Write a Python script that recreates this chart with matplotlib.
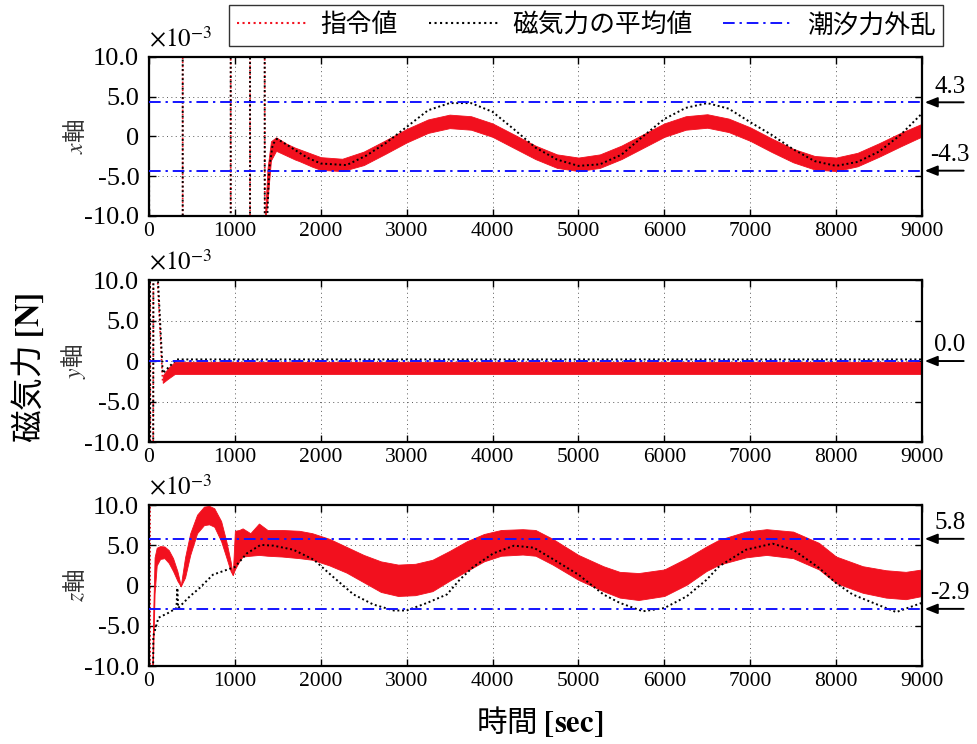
import matplotlib
matplotlib.use('Agg')
import matplotlib.pyplot as plt
from matplotlib.lines import Line2D
from matplotlib.ticker import FixedLocator, FixedFormatter

plt.rcParams['font.family'] = ['Liberation Serif', 'Noto Sans CJK JP']
plt.rcParams['mathtext.fontset'] = 'stix'

RED = '#f2101e'
BLUE = '#1414ff'
JP = ['Noto Sans CJK JP', 'DejaVu Sans']

# ---- x軸 ----
# 指令値: 初期の発散部分 (範囲外を往復) と振動帯の上下包絡線
t_x_cmd0 = [0, 10, 392, 393, 951, 952, 1176, 1177, 1345, 1350, 1370]
v_x_cmd0 = [0, -60, -60, 60, 60, -60, -60, 60, 60, -60, -12]
t_x_band = [1340, 1380, 1420, 1480, 1600, 1700, 1750, 1900, 2000, 2250, 2500, 2750,
            3000, 3250, 3500, 3750, 4000, 4250, 4500, 4750, 5000, 5250, 5500, 5750,
            6000, 6250, 6500, 6750, 7000, 7250, 7500, 7750, 8000, 8250, 8500, 8750, 9000]
x_band_up = [-12, -4.0, -0.6, -0.1, -0.9, -1.4, -1.6, -2.2, -2.6, -2.8, -1.9, -0.5,
             0.95, 2.15, 2.75, 2.55, 1.65, 0.25, -1.15, -2.25, -2.65, -2.25, -1.15, 0.25,
             1.65, 2.55, 2.8, 2.25, 1.15, -0.25, -1.55, -2.45, -2.65, -2.05, -0.85, 0.45, 1.6]
x_band_lo = [-12, -8.0, -3.0, -1.8, -2.4, -2.9, -3.1, -3.8, -4.2, -4.35, -3.6, -2.2,
             -0.75, 0.45, 1.05, 0.85, -0.05, -1.45, -2.85, -3.95, -4.35, -3.95, -2.85, -1.45,
             -0.05, 0.85, 1.1, 0.55, -0.55, -1.95, -3.25, -4.15, -4.35, -3.75, -2.55, -1.25, 0.0]
# 磁気力の平均値
t_x_mean = [0, 10, 392, 393, 951, 952, 1176, 1177, 1345, 1350, 1370, 1400, 1440, 1490,
            1600, 1700, 1850, 2000, 2300, 2530, 2760, 3000, 3250, 3500, 3750, 4000, 4250,
            4500, 4750, 5000, 5250, 5500, 5750, 6000, 6250, 6500, 6750, 7000, 7250, 7500,
            7750, 8000, 8250, 8500, 8750, 9000]
x_mean = [0, -60, -60, 60, 60, -60, -60, 60, 60, -60, -12, -4.0, -1.0, -0.3,
          -1.0, -1.7, -2.7, -3.4, -3.6, -2.4, -0.8, 1.2, 3.3, 4.2, 4.2, 3.1, 0.9,
          -1.4, -2.9, -3.7, -3.5, -2.3, 0.0, 2.2, 3.6, 4.2, 3.5, 1.8, 0.2, -1.6,
          -3.1, -3.7, -3.2, -1.9, 0.2, 2.9]
x_tide = [4.3, -4.3]

# ---- y軸 ----
t_y_cmd0 = [0, 8, 18, 45, 55, 95, 160]
v_y_cmd0 = [0, 60, -60, -60, 60, 11, -2.7]
t_y_band = [160, 220, 300, 9000]
y_band_up = [-1.8, -0.9, -0.1, -0.1]
y_band_lo = [-2.7, -2.2, -1.6, -1.6]
t_y_mean = [0, 8, 18, 45, 55, 100, 160, 320, 9000]
y_mean = [0, 60, -60, -60, 60, 11, -1.5, 0.2, 0.2]
y_tide = [0.0]

# ---- z軸 ----
t_z_cmd0 = [0, 5, 12, 14, 35]
v_z_cmd0 = [0, 60, 60, -60, -60]
t_z_hump1 = [35, 50, 65, 90, 130, 180, 230, 280, 330, 370]
z_hump1_up = [-12, -3.0, 3.5, 4.7, 4.9, 4.85, 4.4, 3.4, 1.8, 0.0]
z_hump1_lo = [-12, -8.0, -1.0, 2.5, 3.3, 3.4, 2.8, 1.8, 0.6, -0.1]
t_z_hump2 = [370, 420, 480, 560, 640, 700, 760, 840, 900, 950, 975]
z_hump2_up = [0.0, 3.5, 6.5, 8.8, 9.8, 9.9, 9.6, 8.0, 5.5, 3.0, 1.3]
z_hump2_lo = [-0.1, 1.0, 3.8, 6.5, 7.5, 7.6, 7.3, 5.5, 3.5, 1.8, 1.3]
t_z_band = [975, 1000, 1050, 1090, 1180, 1280, 1380, 1550, 1750, 1900, 2100, 2300,
            2500, 2700, 2900, 3100, 3300, 3500, 3700, 3900, 4100, 4350, 4500, 4700,
            5000, 5290, 5480, 5700, 6000, 6260, 6490, 6640, 6950, 7190, 7500, 7800,
            8000, 8310, 8580, 8810, 9000]
z_band_up = [1.3, 6.8, 6.9, 7.1, 6.5, 7.7, 6.9, 6.9, 6.8, 6.5, 5.8, 4.8,
             3.8, 3.0, 2.6, 2.7, 3.2, 4.3, 5.5, 6.4, 6.9, 7.0, 6.9, 5.8,
             3.8, 2.4, 1.7, 1.55, 2.0, 3.4, 4.85, 5.7, 6.7, 7.0, 6.7, 5.3,
             3.6, 2.4, 1.9, 1.7, 2.0]
z_band_lo = [1.3, 2.0, 3.0, 3.6, 3.7, 3.8, 3.7, 3.6, 3.4, 3.2, 2.5, 1.6,
             0.4, -0.8, -1.3, -1.2, -0.7, 0.6, 1.8, 3.0, 3.7, 3.85, 3.7, 2.6,
             0.7, -0.7, -1.5, -1.8, -1.3, 0.1, 1.8, 2.6, 3.5, 3.8, 3.4, 2.0,
             0.3, -0.9, -1.5, -1.7, -1.3]
t_z_mean = [0, 30, 50, 110, 225, 320, 330, 340, 475, 590, 745, 1000, 1140, 1300,
            1450, 1680, 1920, 2130, 2380, 2610, 2850, 3000, 3240, 3470, 3620, 3780,
            4010, 4250, 4480, 4700, 5000, 5290, 5480, 5750, 6000, 6260, 6490, 6640,
            6950, 7260, 7500, 7800, 8000, 8190, 8430, 8700, 9000]
z_mean = [-60, -60, -6.3, -4.0, -3.4, -2.8, -0.3, -2.8, -1.35, -0.3, 1.35, 2.3, 4.0, 5.05,
          4.95, 4.45, 3.2, 1.2, -1.1, -2.35, -3.1, -3.1, -2.15, -1.1, 0.75, 2.35,
          4.0, 4.95, 4.7, 3.3, 1.35, -1.1, -2.15, -3.2, -2.8, -1.35, 0.7, 2.4,
          4.45, 5.2, 4.45, 2.2, 0.3, -1.1, -2.15, -3.3, -2.15]
z_tide = [5.8, -2.9]

xticks = [0, 1000, 2000, 3000, 4000, 5000, 6000, 7000, 8000, 9000]
yticks = [-10, -5, 0, 5, 10]
ytick_labels = ['-10.0', '-5.0', '0', '5.0', '10.0']

fig = plt.figure(figsize=(9.77, 7.44), dpi=100)
ax_x = fig.add_axes([0.1525, 0.7097, 0.7912, 0.2137])
ax_y = fig.add_axes([0.1525, 0.4059, 0.7912, 0.2177])
ax_z = fig.add_axes([0.1525, 0.1048, 0.7912, 0.2164])

DASHDOT = (0, (6, 2.5, 1.2, 2.5))


def draw_panel(ax, bands, cmd0, mean, tide, label):
    for t, up, lo in bands:
        ax.fill_between(t, lo, up, color=RED, lw=0.6, edgecolor=RED, zorder=2)
    ax.plot(cmd0[0], cmd0[1], color=RED, ls=(0, (1, 1.4)), lw=1.2, zorder=2)
    ax.plot(mean[0], mean[1], color='k', ls=(1.2, (1, 1.4)), lw=1.4, zorder=3)
    for v in tide:
        ax.axhline(v, color=BLUE, ls=DASHDOT, lw=1.4, zorder=4)
        ax.annotate('', xy=(9000, v), xycoords='data', xytext=(30, 0),
                    textcoords='offset points', annotation_clip=False,
                    arrowprops=dict(arrowstyle='-|>,head_length=0.75,head_width=0.3',
                                    color='k', lw=1.4, shrinkA=0, shrinkB=2))
        ax.annotate('%.1f' % v, xy=(9000, v), xycoords='data', xytext=(20, 7),
                    textcoords='offset points', ha='center', va='baseline',
                    fontsize=18, annotation_clip=False)

    ax.set_xlim(0, 9000)
    ax.set_ylim(-10, 10)
    ax.xaxis.set_major_locator(FixedLocator(xticks))
    ax.yaxis.set_major_locator(FixedLocator(yticks))
    ax.yaxis.set_major_formatter(FixedFormatter(ytick_labels))
    ax.tick_params(direction='in', length=5, width=1.0, top=True, right=True)
    ax.tick_params(axis='x', labelsize=15.5, pad=4)
    ax.tick_params(axis='y', labelsize=19, pad=7)
    ax.grid(True, color='0.35', ls=(0, (1, 3.5)), lw=0.7, zorder=0)
    ax.set_axisbelow(True)
    for s in ax.spines.values():
        s.set_linewidth(1.6)
    ax.text(0.0, 1.03, r'$\times10^{-3}$', transform=ax.transAxes,
            ha='left', va='bottom', fontsize=18)
    ax.set_ylabel(label, fontsize=17, family=JP, color='0.2')
    ax.yaxis.set_label_coords(-0.079, 0.5)


draw_panel(ax_x, [(t_x_band, x_band_up, x_band_lo)], (t_x_cmd0, v_x_cmd0),
           (t_x_mean, x_mean), x_tide, r'$x$軸')
draw_panel(ax_y, [(t_y_band, y_band_up, y_band_lo)], (t_y_cmd0, v_y_cmd0),
           (t_y_mean, y_mean), y_tide, r'$y$軸')
draw_panel(ax_z, [(t_z_hump1, z_hump1_up, z_hump1_lo),
                  (t_z_hump2, z_hump2_up, z_hump2_lo),
                  (t_z_band, z_band_up, z_band_lo)],
           (t_z_cmd0, v_z_cmd0), (t_z_mean, z_mean), z_tide, r'$z$軸')

fig.text(0.029, 0.505, r'磁気力 $\mathbf{[N]}$', rotation=90, ha='center', va='center',
         fontsize=23.5, family=JP)
fig.text(0.552, 0.03, r'時間 $\mathbf{[sec]}$', ha='center', va='center',
         fontsize=22, family=JP)

handles = [Line2D([], [], color=RED, ls=':', lw=1.5),
           Line2D([], [], color='k', ls=':', lw=1.5),
           Line2D([], [], color=BLUE, ls=DASHDOT, lw=1.4)]
leg = fig.legend(handles, ['指令値', '磁気力の平均値', '潮汐力外乱'], ncol=3,
                 loc='center', bbox_to_anchor=(0.6, 0.966), frameon=True,
                 fancybox=False, edgecolor='k', handlelength=2.7, handletextpad=0.55,
                 columnspacing=1.2, borderpad=0.3, borderaxespad=0,
                 prop={'family': JP, 'size': 18.5})
leg.get_frame().set_linewidth(1.0)

fig.savefig('out.png', dpi=100)
